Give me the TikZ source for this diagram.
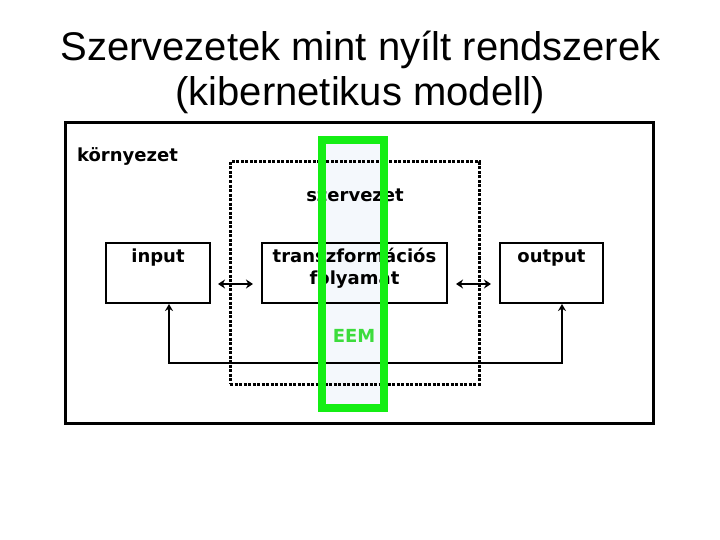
\documentclass[tikz,border=0pt]{standalone}
\usepackage{fontspec}
\setmainfont{Liberation Sans}
\newfontfamily\vfont{DejaVu Sans}
\usetikzlibrary{arrows.meta}
\definecolor{eemgreen}{RGB}{20,238,20}
\definecolor{eemtext}{RGB}{60,220,60}
\definecolor{eemfill}{RGB}{244,248,252}
\tikzset{
  lbl/.style={font=\vfont\bfseries\fontsize{18}{22}\selectfont, inner sep=0pt, anchor=base},
  titletext/.style={font=\fontsize{40}{44}\selectfont, inner sep=0pt, anchor=base},
  boxshape/.style={draw, line width=2pt, rectangle, inner sep=0pt},
  outerframe/.style={draw, line width=3pt, rectangle, inner sep=0pt},
  dotframe/.style={draw, line width=3pt, dash pattern=on 3pt off 1.5pt, rectangle, inner sep=0pt},
  columnfill/.style={fill=eemfill, rectangle, inner sep=0pt},
  greenframe/.style={draw=eemgreen, line width=8pt, rectangle, inner sep=0pt},
  dbl/.style={line width=2.5pt, {Stealth[length=7pt,width=9pt]}-{Stealth[length=7pt,width=9pt]}},
  fb/.style={line width=2pt, {Stealth[length=7pt,width=8pt]}-{Stealth[length=7pt,width=8pt]}},
}
\begin{document}
\begin{tikzpicture}[x=1pt,y=-1pt]
\useasboundingbox (0,0) rectangle (720,540);
% title
\node[titletext] (t1) at (360.5,61) {Szervezetek mint nyílt rendszerek};
\node[titletext] (t2) at (360,106) {(kibernetikus modell)};
% EEM column background
\node[columnfill, minimum width=62pt, minimum height=268pt] (eembg) at (353,274) {};
% frames
\node[outerframe, minimum width=588pt, minimum height=301pt] (env) at (359,273) {};
\node[dotframe, minimum width=249pt, minimum height=222pt] (org) at (354.5,273) {};
% boxes
\node[boxshape, minimum width=104pt, minimum height=60pt] (in) at (158,273) {};
\node[boxshape, minimum width=185pt, minimum height=60pt] (tr) at (354.5,273) {};
\node[boxshape, minimum width=103pt, minimum height=60pt] (out) at (551.5,273) {};
% labels
\node[lbl] (envl) at (127.5,162) {környezet};
\node[lbl] (orgl) at (355,202) {szervezet};
\node[lbl] (inl) at (158,262) {input};
\node[lbl] (trl1) at (354.5,262) {transzformációs};
\node[lbl] (trl2) at (354.5,284) {folyamat};
\node[lbl] (outl) at (551.5,262) {output};
% connectors
\coordinate (a1) at (218,284);
\coordinate (a2) at (253,284);
\coordinate (b1) at (456,284);
\coordinate (b2) at (491,284);
\draw[dbl] (a1) -- (a2);
\draw[dbl] (b1) -- (b2);
\coordinate (fbL) at (169,363);
\coordinate (fbR) at (562,363);
\draw[fb] (in.south -| fbL) -- (fbL) -- (fbR) -- (out.south -| fbR);
% EEM column border
\node[greenframe, minimum width=62pt, minimum height=268pt] (eem) at (353,274) {};
\node[lbl, text=eemtext] (eeml) at (354,342) {EEM};
\end{tikzpicture}
\end{document}
